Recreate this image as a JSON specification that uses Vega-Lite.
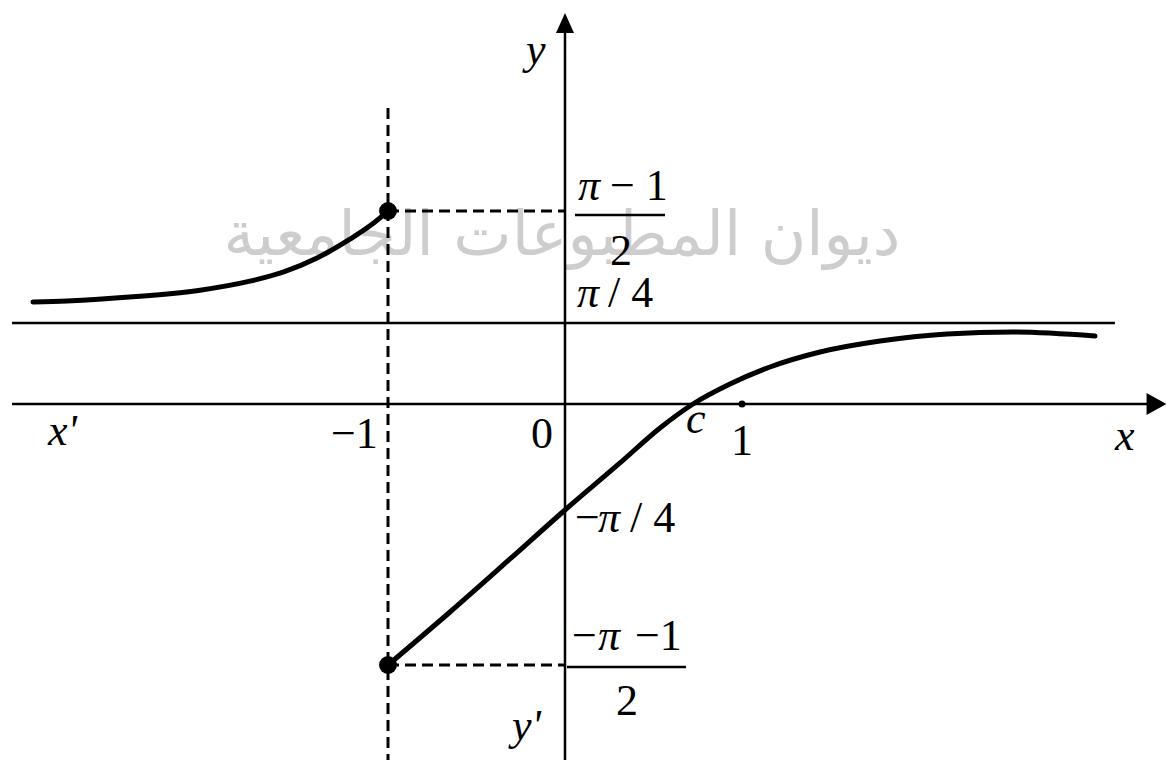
{
  "$schema": "https://vega.github.io/schema/vega-lite/v6.json",
  "width": 1166,
  "height": 760,
  "padding": 0,
  "autosize": {"type": "none"},
  "background": "white",
  "config": {"view": {"stroke": null}},
  "datasets": {
    "curve": [
      {"branch": "left", "x": -3.006, "y": 0.839},
      {"branch": "left", "x": -2.814, "y": 0.8415},
      {"branch": "left", "x": -2.441, "y": 0.852},
      {"branch": "left", "x": -2.062, "y": 0.869},
      {"branch": "left", "x": -1.780, "y": 0.892},
      {"branch": "left", "x": -1.593, "y": 0.915},
      {"branch": "left", "x": -1.401, "y": 0.951},
      {"branch": "left", "x": -1.215, "y": 0.999},
      {"branch": "left", "x": -1.102, "y": 1.033},
      {"branch": "left", "x": -1.0, "y": 1.0708},
      {"branch": "right", "x": -1.0, "y": -2.0708},
      {"branch": "right", "x": -0.6497, "y": -1.6312},
      {"branch": "right", "x": -0.3107, "y": -1.1917},
      {"branch": "right", "x": 0.0, "y": -0.7854},
      {"branch": "right", "x": 0.3107, "y": -0.4370},
      {"branch": "right", "x": 0.5367, "y": -0.1778},
      {"branch": "right", "x": 0.7232, "y": 0.0},
      {"branch": "right", "x": 0.9322, "y": 0.1939},
      {"branch": "right", "x": 1.1582, "y": 0.3588},
      {"branch": "right", "x": 1.4407, "y": 0.5042},
      {"branch": "right", "x": 1.7797, "y": 0.6109},
      {"branch": "right", "x": 2.1582, "y": 0.6788},
      {"branch": "right", "x": 2.5311, "y": 0.6982},
      {"branch": "right", "x": 2.9944, "y": 0.6594}
    ],
    "solidLines": [
      {"name": "x axis", "x": -3.124, "x2": 3.30, "y": 0, "y2": 0},
      {"name": "y axis", "x": 0, "x2": 0, "y": -2.86, "y2": 1.53},
      {"name": "asymptote", "x": -3.124, "x2": 3.107, "y": 0.7854, "y2": 0.7854},
      {"name": "upper fraction bar", "x": 0.0565, "x2": 0.565, "y": 1.0606, "y2": 1.0606},
      {"name": "lower fraction bar", "x": 0.0113, "x2": 0.6836, "y": -2.0874, "y2": -2.0874}
    ],
    "dashedLines": [
      {"name": "x = -1", "x": -1, "x2": -1, "y": 1.333, "y2": -2.86},
      {"name": "upper limit", "x": -1, "x2": 0, "y": 1.0708, "y2": 1.0708},
      {"name": "lower limit", "x": -1, "x2": 0, "y": -2.0708, "y2": -2.0708}
    ],
    "italicLabels": [
      {"label": "π", "x": 0.0734, "y": 1.0989},
      {"label": "π", "x": 0.0678, "y": 0.8262},
      {"label": "π", "x": 0.1864, "y": -0.9678},
      {"label": "π", "x": 0.1864, "y": -1.9463},
      {"label": "x'", "x": -2.9209, "y": -0.3037},
      {"label": "x", "x": 3.1073, "y": -0.3407},
      {"label": "y", "x": -0.2203, "y": 1.4454},
      {"label": "y'", "x": -0.2994, "y": -2.6925},
      {"label": "c", "x": 0.6836, "y": -0.2148}
    ],
    "romanLabels": [
      {"label": "− 1", "x": 0.2542, "y": 1.0989},
      {"label": "2", "x": 0.2542, "y": 0.9332},
      {"label": "/ 4", "x": 0.2429, "y": 0.8262},
      {"label": "−", "x": 0.0565, "y": -0.9678},
      {"label": "/ 4", "x": 0.3672, "y": -0.9678},
      {"label": "−", "x": 0.0395, "y": -1.9463},
      {"label": "−1", "x": 0.3955, "y": -1.9463},
      {"label": "2", "x": 0.2881, "y": -2.4852},
      {"label": "−1", "x": -1.3220, "y": -0.3259},
      {"label": "0", "x": -0.1921, "y": -0.3259},
      {"label": "1", "x": 0.9379, "y": -0.3778}
    ]
  },
  "encoding": {
    "x": {
      "field": "x",
      "type": "quantitative",
      "scale": {"domain": [-1, 1], "range": [388, 742], "nice": false, "zero": false},
      "axis": null
    },
    "y": {
      "field": "y",
      "type": "quantitative",
      "scale": {
        "domain": [-2.0708, -0.7854, 0, 0.7854, 1.0708],
        "range": [665, 510, 404, 323, 211],
        "nice": false,
        "zero": false
      },
      "axis": null
    }
  },
  "layer": [
    {
      "data": {"values": [{"label": "ديوان المطبوعات الجامعية", "x": -0.017, "y": 0.9587}]},
      "mark": {"type": "text", "font": "DejaVu Sans", "fontSize": 62, "color": "#cdcdcd", "align": "center", "baseline": "alphabetic"},
      "encoding": {"text": {"field": "label"}}
    },
    {
      "data": {"name": "solidLines"},
      "mark": {"type": "rule", "color": "black", "strokeWidth": 2.5},
      "encoding": {"x2": {"field": "x2"}, "y2": {"field": "y2"}}
    },
    {
      "data": {"name": "dashedLines"},
      "mark": {"type": "rule", "color": "black", "strokeWidth": 3, "strokeDash": [11, 6]},
      "encoding": {"x2": {"field": "x2"}, "y2": {"field": "y2"}}
    },
    {
      "data": {"name": "curve"},
      "mark": {"type": "line", "color": "black", "strokeWidth": 5, "interpolate": "monotone", "strokeCap": "round"},
      "encoding": {"detail": {"field": "branch"}}
    },
    {
      "data": {"values": [{"x": -1, "y": 1.0708}, {"x": -1, "y": -2.0708}]},
      "mark": {"type": "point", "filled": true, "color": "black", "size": 320, "opacity": 1}
    },
    {
      "data": {"values": [{"x": 1, "y": 0}]},
      "mark": {"type": "point", "filled": true, "color": "black", "size": 50, "opacity": 1}
    },
    {
      "data": {"values": [{"x": 3.342, "y": 0}]},
      "mark": {"type": "point", "filled": true, "color": "black", "size": 400, "opacity": 1, "shape": "M 1 0 L -1 -1.1 L -1 1.1 Z"}
    },
    {
      "data": {"values": [{"x": 0, "y": 1.55}]},
      "mark": {"type": "point", "filled": true, "color": "black", "size": 400, "opacity": 1, "shape": "M 0 -1 L -0.9 1 L 0.9 1 Z"}
    },
    {
      "data": {"name": "italicLabels"},
      "mark": {"type": "text", "font": "Liberation Serif", "fontStyle": "italic", "fontSize": 44, "color": "black", "align": "left", "baseline": "alphabetic"},
      "encoding": {"text": {"field": "label"}}
    },
    {
      "data": {"name": "romanLabels"},
      "mark": {"type": "text", "font": "Liberation Serif", "fontSize": 44, "color": "black", "align": "left", "baseline": "alphabetic"},
      "encoding": {"text": {"field": "label"}}
    }
  ]
}
